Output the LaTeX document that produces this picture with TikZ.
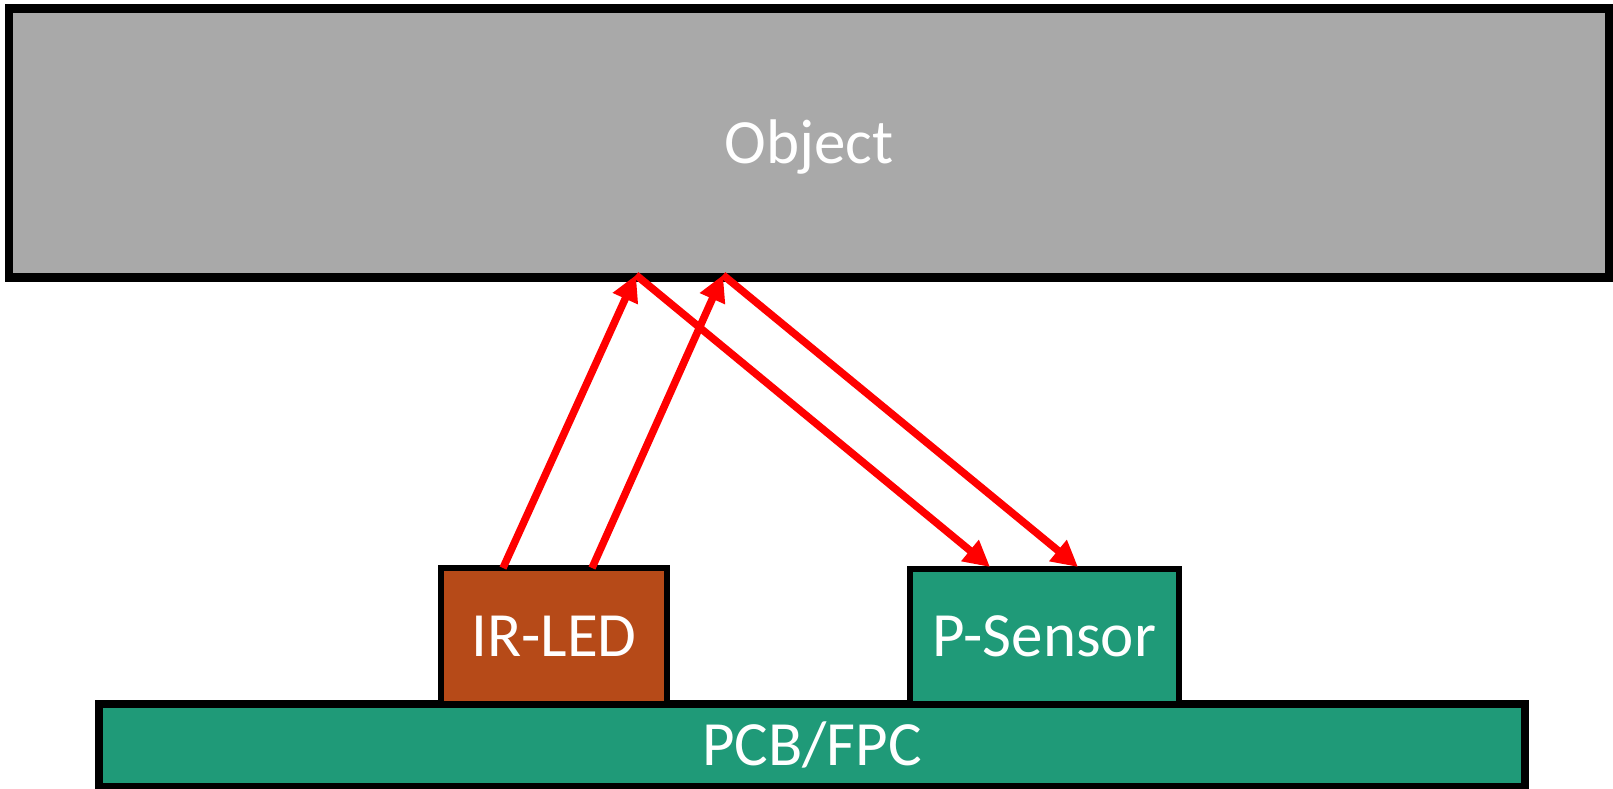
\documentclass[tikz,border=0pt]{standalone}
\usepackage{fontspec}
\setmainfont{Carlito}
\usetikzlibrary{arrows.meta}
\definecolor{objgray}{RGB}{169,169,169}
\definecolor{ledorange}{RGB}{182,74,24}
\definecolor{pcbgreen}{RGB}{31,154,120}
\tikzset{
  box/.style={draw=black, rectangle, inner sep=0pt, text=white,
    font=\fontsize{63}{75}\selectfont, text height=40.5pt, text depth=0pt},
  bigbox/.style={box, line width=8.5pt},
  smallbox/.style={box, line width=6pt},
  ray/.style={draw=red, line width=7.5pt, -{Triangle[length=26pt,width=26pt]}}
}
\begin{document}
\begin{tikzpicture}[x=1pt,y=-1pt]
\useasboundingbox (0,0) rectangle (1613,789);
\node[bigbox, fill=objgray, minimum width=1600pt, minimum height=269pt] (obj) at (809,143) {Object};
\node[bigbox, line width=8pt, fill=pcbgreen, minimum width=1426pt, minimum height=83pt] (pcb) at (812,745.5) {PCB/FPC};
\node[smallbox, fill=ledorange, minimum width=226pt, minimum height=136pt] (led) at (554,636) {IR-LED};
\node[smallbox, fill=pcbgreen, minimum width=269pt, minimum height=135pt] (sens) at (1044.5,636.5) {P-Sensor};
\coordinate (e1) at (503,568);
\coordinate (e2) at (592,568);
\coordinate (r1) at (636,275);
\coordinate (r2) at (723,275);
\coordinate (s1) at (990,567);
\coordinate (s2) at (1078,567);
\draw[ray] (e1) -- (r1);
\draw[ray] (e2) -- (r2);
\draw[ray] (r1) -- (s1);
\draw[ray] (r2) -- (s2);
\end{tikzpicture}
\end{document}
